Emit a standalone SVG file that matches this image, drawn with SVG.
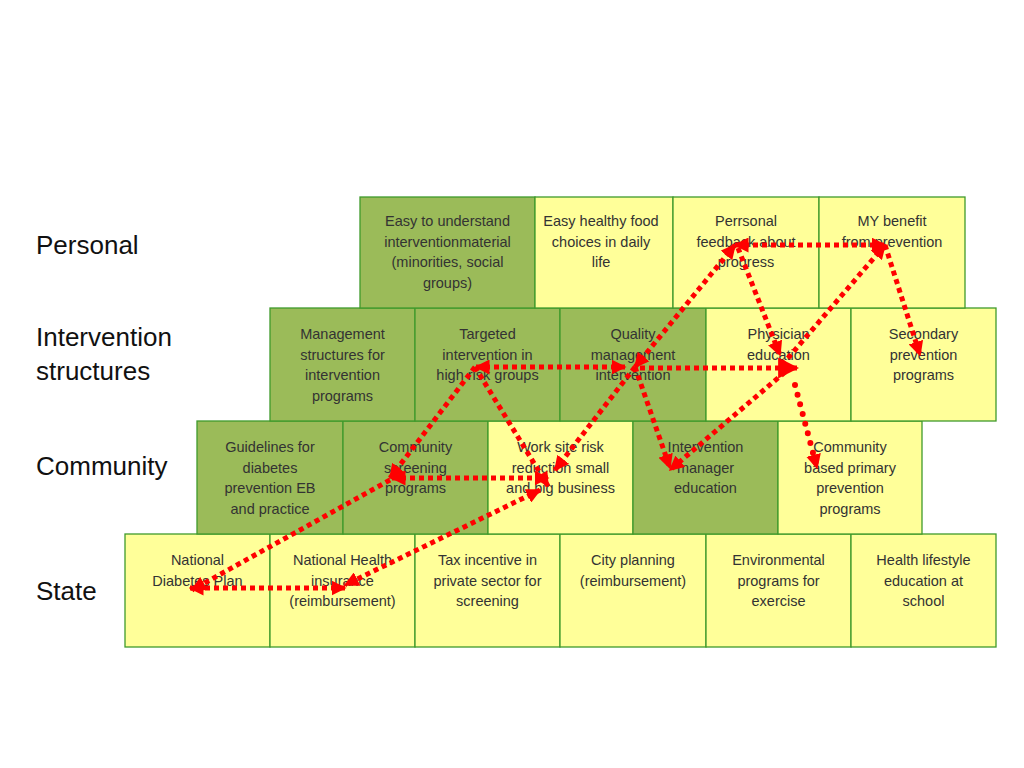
<svg xmlns="http://www.w3.org/2000/svg" width="1024" height="768" viewBox="0 0 1024 768">
<defs>
<style>
.d{fill:#9bbb59;stroke:#3f9a2c;stroke-width:1.3}
.y{fill:#ffff99;stroke:#3f9a2c;stroke-width:1.3}
.t{font-family:"Liberation Sans",Arial,sans-serif;font-size:14.5px;fill:#333;text-anchor:middle}
.lab{font-family:"Liberation Sans",Arial,sans-serif;font-size:26px;fill:#111}
.c{fill:none;stroke:#ff0000;stroke-width:5;stroke-dasharray:5 4}
.r{fill:none;stroke:#ff0000;stroke-width:6;stroke-dasharray:0 10;stroke-linecap:round}
</style>
<marker id="ah" viewBox="0 0 10 10" refX="9" refY="5" markerWidth="15" markerHeight="15" markerUnits="userSpaceOnUse" orient="auto-start-reverse"><path d="M0,0 L10,5 L0,10z" fill="#ff0000"/></marker>
<marker id="ahL" viewBox="0 0 10 10" refX="9" refY="5" markerWidth="21" markerHeight="21" markerUnits="userSpaceOnUse" orient="auto-start-reverse"><path d="M0,0 L10,5 L0,10z" fill="#ff0000"/></marker>
</defs>
<rect width="1024" height="768" fill="#fff"/>
<g id="labels">
<text class="lab" x="36" y="254">Personal</text>
<text class="lab" x="36" y="346">Intervention</text>
<text class="lab" x="36" y="380">structures</text>
<text class="lab" x="36" y="475">Community</text>
<text class="lab" x="36" y="600">State</text>
</g>
<!-- State row -->
<g id="n-national-diabetes-plan"><rect class="y" x="125" y="534" width="145" height="113"/><text class="t" x="197.5" y="565">National</text><text class="t" x="197.5" y="585.7">Diabetes Plan</text></g>
<g id="n-national-health-insurance"><rect class="y" x="270" y="534" width="145" height="113"/><text class="t" x="342.5" y="565">National Health</text><text class="t" x="342.5" y="585.7">insurance</text><text class="t" x="342.5" y="606.4">(reimbursement)</text></g>
<g id="n-tax-incentive"><rect class="y" x="415" y="534" width="145" height="113"/><text class="t" x="487.5" y="565">Tax incentive in</text><text class="t" x="487.5" y="585.7">private sector for</text><text class="t" x="487.5" y="606.4">screening</text></g>
<g id="n-city-planning"><rect class="y" x="560" y="534" width="146" height="113"/><text class="t" x="633" y="565">City planning</text><text class="t" x="633" y="585.7">(reimbursement)</text></g>
<g id="n-environmental"><rect class="y" x="706" y="534" width="145" height="113"/><text class="t" x="778.5" y="565">Environmental</text><text class="t" x="778.5" y="585.7">programs for</text><text class="t" x="778.5" y="606.4">exercise</text></g>
<g id="n-health-lifestyle"><rect class="y" x="851" y="534" width="145" height="113"/><text class="t" x="923.5" y="565">Health lifestyle</text><text class="t" x="923.5" y="585.7">education at</text><text class="t" x="923.5" y="606.4">school</text></g>
<!-- Community row -->
<g id="n-guidelines"><rect class="d" x="197" y="421" width="146" height="113"/><text class="t" x="270" y="452">Guidelines for</text><text class="t" x="270" y="472.7">diabetes</text><text class="t" x="270" y="493.4">prevention EB</text><text class="t" x="270" y="514.1">and practice</text></g>
<g id="n-community-screening"><rect class="d" x="343" y="421" width="145" height="113"/><text class="t" x="415.5" y="452">Community</text><text class="t" x="415.5" y="472.7">screening</text><text class="t" x="415.5" y="493.4">programs</text></g>
<g id="n-work-site"><rect class="y" x="488" y="421" width="145" height="113"/><text class="t" x="560.5" y="452">Work site risk</text><text class="t" x="560.5" y="472.7">reduction small</text><text class="t" x="560.5" y="493.4">and big business</text></g>
<g id="n-intervention-manager"><rect class="d" x="633" y="421" width="145" height="113"/><text class="t" x="705.5" y="452">Intervention</text><text class="t" x="705.5" y="472.7">manager</text><text class="t" x="705.5" y="493.4">education</text></g>
<g id="n-community-based"><rect class="y" x="778" y="421" width="144" height="113"/><text class="t" x="850" y="452">Community</text><text class="t" x="850" y="472.7">based primary</text><text class="t" x="850" y="493.4">prevention</text><text class="t" x="850" y="514.1">programs</text></g>
<!-- Intervention structures row -->
<g id="n-management-structures"><rect class="d" x="270" y="308" width="145" height="113"/><text class="t" x="342.5" y="339">Management</text><text class="t" x="342.5" y="359.7">structures for</text><text class="t" x="342.5" y="380.4">intervention</text><text class="t" x="342.5" y="401.1">programs</text></g>
<g id="n-targeted"><rect class="d" x="415" y="308" width="145" height="113"/><text class="t" x="487.5" y="339">Targeted</text><text class="t" x="487.5" y="359.7">intervention in</text><text class="t" x="487.5" y="380.4">high risk groups</text></g>
<g id="n-quality"><rect class="d" x="560" y="308" width="146" height="113"/><text class="t" x="633" y="339">Quality</text><text class="t" x="633" y="359.7">management</text><text class="t" x="633" y="380.4">intervention</text></g>
<g id="n-physician"><rect class="y" x="706" y="308" width="145" height="113"/><text class="t" x="778.5" y="339">Physician</text><text class="t" x="778.5" y="359.7">education</text></g>
<g id="n-secondary"><rect class="y" x="851" y="308" width="145" height="113"/><text class="t" x="923.5" y="339">Secondary</text><text class="t" x="923.5" y="359.7">prevention</text><text class="t" x="923.5" y="380.4">programs</text></g>
<!-- Personal row -->
<g id="n-easy-understand"><rect class="d" x="360" y="197" width="175" height="111"/><text class="t" x="447.5" y="226">Easy to understand</text><text class="t" x="447.5" y="246.7">interventionmaterial</text><text class="t" x="447.5" y="267.4">(minorities, social</text><text class="t" x="447.5" y="288.1">groups)</text></g>
<g id="n-easy-food"><rect class="y" x="535" y="197" width="138" height="111"/><text class="t" x="601" y="226">Easy healthy food</text><text class="t" x="601" y="246.7">choices in daily</text><text class="t" x="601" y="267.4">life</text></g>
<g id="n-personal-feedback"><rect class="y" x="673" y="197" width="146" height="111"/><text class="t" x="746" y="226">Perrsonal</text><text class="t" x="746" y="246.7">feedback about</text><text class="t" x="746" y="267.4">progress</text></g>
<g id="n-my-benefit"><rect class="y" x="819" y="197" width="146" height="111"/><text class="t" x="892" y="226">MY benefit</text><text class="t" x="892" y="246.7">from prevention</text></g>
<g id="connectors">
<path class="c" d="M345,588 L190,588" marker-start="url(#ah)" marker-end="url(#ah)"/>
<path class="c" d="M390,480 L192,590" marker-end="url(#ah)"/>
<path class="c" d="M540,490 L345,585" marker-start="url(#ah)" marker-end="url(#ah)"/>
<path class="c" d="M392,478 L548,478" marker-start="url(#ah)" marker-end="url(#ah)"/>
<path class="c" d="M475,367 L390,478" marker-end="url(#ah)"/>
<path class="c" d="M475,367 L548,486" marker-end="url(#ah)"/>
<path class="c" d="M476,367 L625,367" marker-start="url(#ah)" marker-end="url(#ah)"/>
<path class="c" d="M635,367 L555,470" marker-end="url(#ah)"/>
<path class="c" d="M635,367 L670,468" marker-end="url(#ah)"/>
<path class="c" d="M640,368 L797,368" marker-end="url(#ahL)"/>
<path class="c" d="M635,367 L735,245" marker-start="url(#ah)" marker-end="url(#ah)"/>
<path class="c" d="M738,248 L780,355" marker-end="url(#ah)"/>
<path class="c" d="M735,245 L885,245" marker-start="url(#ah)" marker-end="url(#ah)"/>
<path class="c" d="M885,245 L920,355" marker-end="url(#ah)"/>
<path class="c" d="M782,365 L885,245" marker-end="url(#ah)"/>
<path class="c" d="M785,372 L670,470" marker-end="url(#ah)"/>
<path class="r" d="M795,385 L817,468" marker-end="url(#ah)"/>
</g>
</svg>
